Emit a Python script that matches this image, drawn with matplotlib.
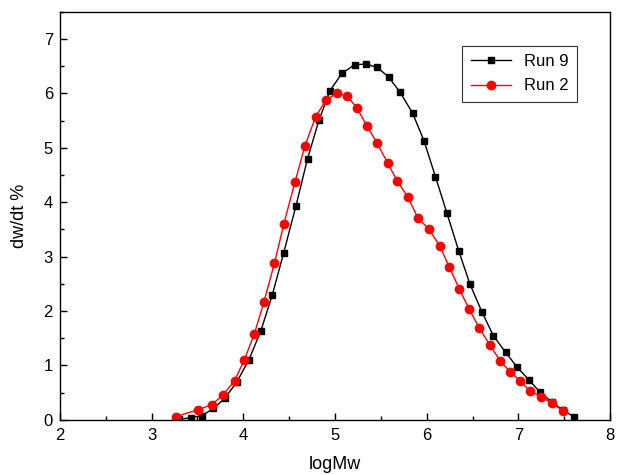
import matplotlib
matplotlib.use('Agg')
from matplotlib import pyplot as plt
from matplotlib.ticker import MultipleLocator

plt.rcParams['font.family'] = ['Liberation Sans', 'DejaVu Sans']

# Run 9 (black squares)
run9_logmw = [3.30, 3.425, 3.55, 3.675, 3.80, 3.93, 4.06, 4.19, 4.315, 4.44,
              4.575, 4.70, 4.825, 4.945, 5.075, 5.215, 5.335, 5.46, 5.585, 5.71,
              5.845, 5.97, 6.095, 6.22, 6.35, 6.47, 6.60, 6.725, 6.86, 6.985,
              7.11, 7.23, 7.36, 7.485, 7.61]
run9_dwdt = [0.01, 0.04, 0.08, 0.21, 0.40, 0.70, 1.10, 1.63, 2.29, 3.07,
             3.94, 4.80, 5.51, 6.05, 6.37, 6.53, 6.54, 6.48, 6.30, 6.02,
             5.64, 5.13, 4.47, 3.80, 3.10, 2.50, 1.99, 1.55, 1.24, 0.97,
             0.74, 0.52, 0.33, 0.18, 0.05]

# Run 2 (red circles)
run2_logmw = [3.265, 3.51, 3.655, 3.78, 3.905, 4.01, 4.12, 4.225, 4.34, 4.443,
              4.563, 4.672, 4.788, 4.901, 5.017, 5.127, 5.236, 5.345, 5.457, 5.574,
              5.678, 5.792, 5.904, 6.021, 6.144, 6.245, 6.354, 6.463, 6.573, 6.689,
              6.798, 6.911, 7.016, 7.125, 7.242, 7.362, 7.482]
run2_dwdt = [0.06, 0.19, 0.28, 0.46, 0.72, 1.10, 1.58, 2.17, 2.88, 3.61,
             4.37, 5.04, 5.57, 5.88, 6.00, 5.96, 5.74, 5.41, 5.09, 4.72,
             4.39, 4.10, 3.71, 3.51, 3.19, 2.81, 2.41, 2.03, 1.69, 1.37,
             1.09, 0.88, 0.72, 0.53, 0.43, 0.31, 0.17]

fig = plt.figure(figsize=(6.17, 4.75), dpi=100)
ax = fig.add_axes([0.097, 0.116, 0.892, 0.859])

ax.plot(run9_logmw, run9_dwdt, color='black', linewidth=1,
        marker='s', markersize=5, label='Run 9')
ax.plot(run2_logmw, run2_dwdt, color='red', linewidth=1,
        marker='o', markersize=6, label='Run 2')

ax.set_xlim(2, 8)
ax.set_ylim(0, 7.5)
ax.xaxis.set_major_locator(MultipleLocator(1))
ax.xaxis.set_minor_locator(MultipleLocator(0.5))
ax.yaxis.set_major_locator(MultipleLocator(1))
ax.yaxis.set_minor_locator(MultipleLocator(0.5))
ax.tick_params(which='both', direction='in', labelsize=12, width=1)
ax.tick_params(which='major', length=5)
ax.tick_params(which='minor', length=3)
ax.tick_params(axis='x', which='major', pad=6)
ax.tick_params(axis='y', which='major', pad=5)
for s in ax.spines.values():
    s.set_linewidth(1)

ax.set_xlabel('logMw', fontsize=13, labelpad=9)
ax.set_ylabel('dw/dt %', fontsize=13, labelpad=11)

leg = ax.legend(loc='upper right', bbox_to_anchor=(0.955, 0.937),
                fontsize=12, frameon=True, fancybox=False,
                handlelength=2.4, borderpad=0.5, labelspacing=0.55)
leg.get_frame().set_edgecolor('black')
leg.get_frame().set_linewidth(0.8)

plt.savefig('out.png', dpi=100)
